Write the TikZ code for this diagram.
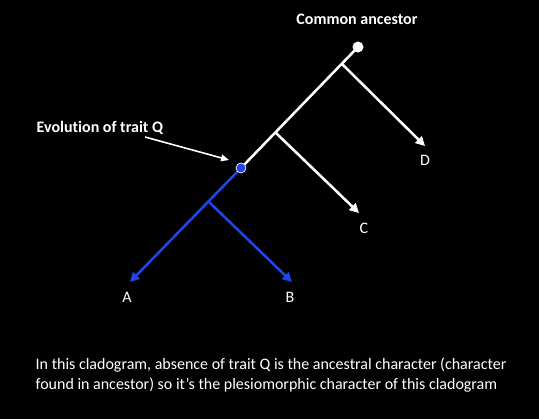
\documentclass[tikz,border=0pt]{standalone}
\usepackage{fontspec}
\setmainfont[Ligatures=CommonOff]{Carlito}
\usetikzlibrary{arrows.meta}
\definecolor{traitblue}{RGB}{30,70,235}
\tikzset{
  branch/.style={white,line width=1.9pt,-{Triangle[length=7pt,width=7pt]}},
  qbranch/.style={branch,traitblue},
  tip/.style={white,font=\fontsize{12}{14}\selectfont},
  lbl/.style={white,font=\bfseries\fontsize{12}{14}\selectfont}
}
\begin{document}
\begin{tikzpicture}[x=0.75pt,y=-0.75pt]
\fill[black] (0,0) rectangle (539,419);
\useasboundingbox (0,0) rectangle (539,419);
% tree points
\coordinate (root) at (358,47);
\coordinate (dfork) at (342,64);
\coordinate (cfork) at (276,133);
\coordinate (qnode) at (241,168);
\coordinate (abfork) at (208,201);
\node[tip] (D) at (425,160) {D};
\node[tip] (C) at (364,228) {C};
\node[tip] (A) at (127,297) {A};
\node[tip] (B) at (290,297) {B};
\draw[white,line width=1.9pt] (root) -- (qnode);
\draw[branch] (dfork) -- (425,146);
\draw[branch] (cfork) -- (359,213);
\draw[qbranch] (qnode) -- (130,282);
\draw[qbranch] (abfork) -- (292,282);
\fill[white] (root) circle (5.5);
\filldraw[fill=traitblue,draw=white,line width=0.5pt] (qnode) circle (5);
% labels
\node[lbl] (ancestor) at (357,19) {Common ancestor};
\node[lbl,anchor=west] (evo) at (32,128) {Evolution of trait Q};
\draw[white,line width=1.2pt,-{Triangle[length=6pt,width=5pt]}] (145,137) -- (229,160);
\node[white,anchor=north west,align=left,font=\fontsize{12}{15}\selectfont] (note) at (31,353)
 {In this cladogram, absence of trait Q is the ancestral character (character\\
  found in ancestor) so it’s the plesiomorphic character of this cladogram};
\end{tikzpicture}
\end{document}
